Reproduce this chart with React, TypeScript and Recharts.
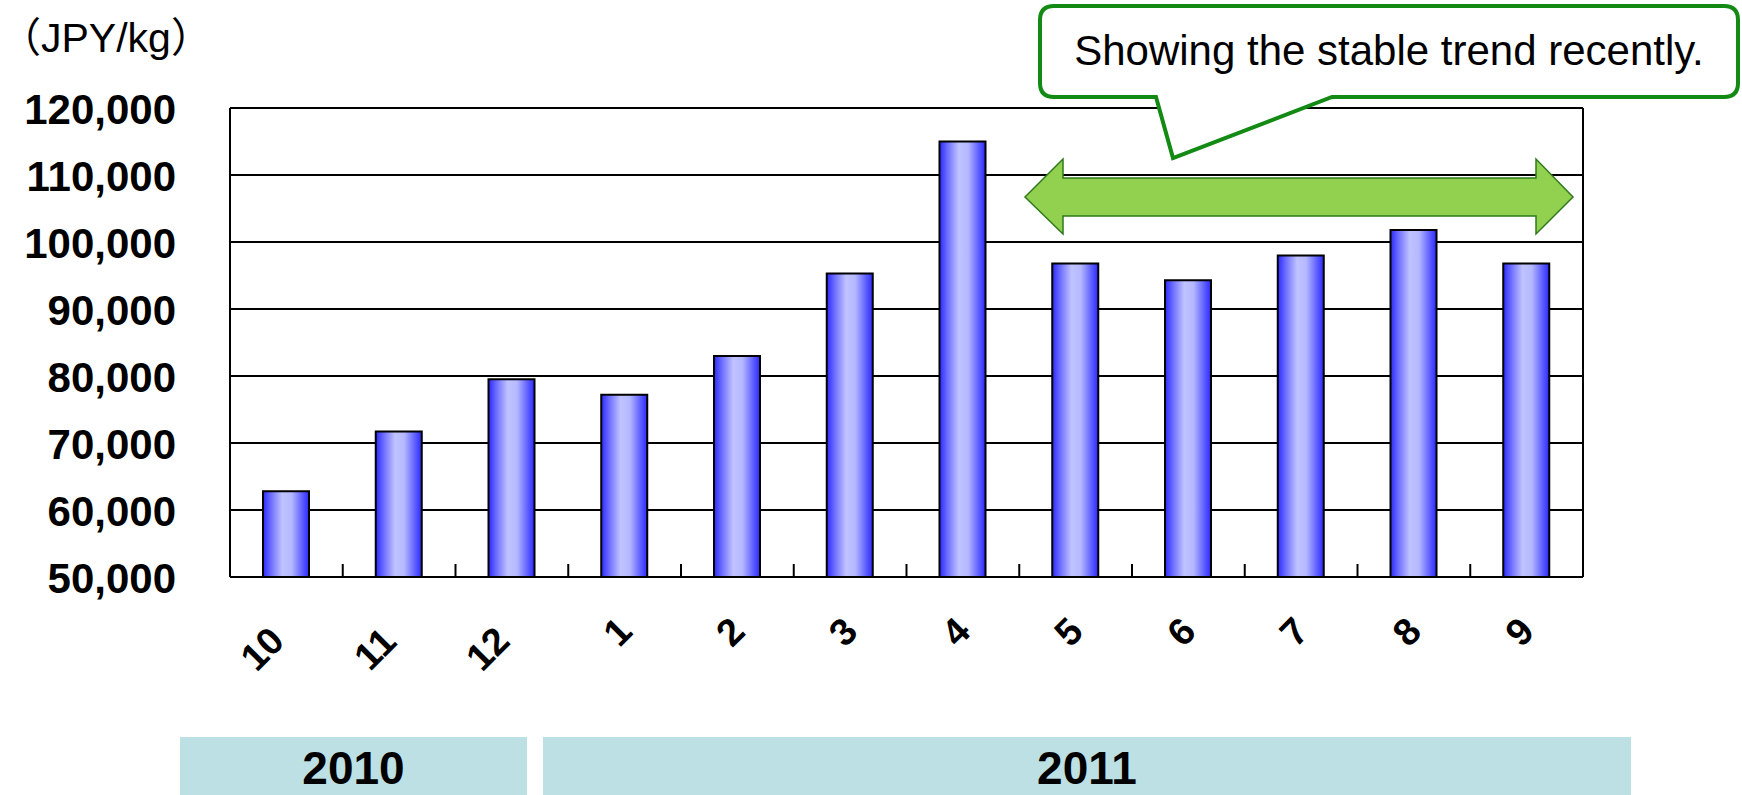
import React from 'react';
import { BarChart, Bar, XAxis, YAxis, CartesianGrid } from 'recharts';

// monthly price, Oct 2010 - Sep 2011
const months = ['10', '11', '12', '1', '2', '3', '4', '5', '6', '7', '8', '9'];
const prices = [62800, 71700, 79500, 77200, 83000, 95300, 115000, 96800, 94300, 98000, 101800, 96800];
const yTicks = [50000, 60000, 70000, 80000, 90000, 100000, 110000, 120000];
const years = ['2010', '2011'];
const unitLabel = '（JPY/kg）';
const calloutText = 'Showing the stable trend recently.';

const data = months.map((m, i) => ({ month: m, price: prices[i] }));

const FONT = '"Liberation Sans", Arial, "Noto Sans CJK JP", sans-serif';

const YTick = (props: any) => {
  const { x, y, payload } = props;
  return (
    <g>
      <line x1={x} y1={y} x2={x + 13} y2={y} stroke="#000" strokeWidth={2} />
      <text x={x - 54} y={y} dy="0.38em" textAnchor="end" fontFamily={FONT} fontWeight="bold" fontSize={42} fill="#000">
        {Number(payload.value).toLocaleString('en-US')}
      </text>
    </g>
  );
};

const XTick = (props: any) => {
  const { x, y, payload, index } = props;
  const half = payload.offset || 56;
  const last = index === months.length - 1;
  // longer labels slide down-left along the 45° line
  const extra = String(payload.value).length - 1;
  const tx = x + 2 - 17 * extra;
  const ty = y + 64 + 17 * extra;
  return (
    <g>
      {!last && <line x1={x + half} y1={y} x2={x + half} y2={y - 13} stroke="#000" strokeWidth={2} />}
      <text
        x={tx}
        y={ty}
        textAnchor="middle"
        transform={`rotate(-45, ${tx}, ${ty})`}
        fontFamily={FONT}
        fontWeight="bold"
        fontSize={38}
        fill="#000"
      >
        {payload.value}
      </text>
    </g>
  );
};

const yearBox = (left: number, width: number, label: string) => (
  <div
    key={label}
    style={{
      position: 'absolute',
      left,
      top: 737,
      width,
      height: 58,
      background: '#BCE0E4',
      fontFamily: FONT,
      fontWeight: 'bold',
      fontSize: 46,
      lineHeight: '62px',
      textAlign: 'center',
      color: '#000',
    }}
  >
    {label}
  </div>
);

export default function App() {
  return (
    <div style={{ position: 'absolute', left: 0, top: 0, width: 1742, height: 795, background: '#fff', overflow: 'hidden' }}>
      <BarChart width={1742} height={795} data={data} margin={{ top: 108, right: 159, bottom: 158, left: 0 }} barSize={46}>
        <defs>
          <linearGradient id="barGrad" x1="0" y1="0" x2="1" y2="0">
            <stop offset="0%" stopColor="#2a2aff" />
            <stop offset="18%" stopColor="#7070ff" />
            <stop offset="42%" stopColor="#c0c3ff" />
            <stop offset="62%" stopColor="#b5b8ff" />
            <stop offset="86%" stopColor="#5c5cff" />
            <stop offset="100%" stopColor="#2a2aff" />
          </linearGradient>
        </defs>
        {/* horizontal gridlines plus the right-hand border of the plot */}
        <CartesianGrid
          horizontal
          vertical
          verticalCoordinatesGenerator={({ offset }: any) => [offset.left + offset.width]}
          stroke="#000"
          strokeWidth={2}
        />
        <XAxis
          dataKey="month"
          height={60}
          interval={0}
          tickSize={0}
          tickMargin={0}
          tickLine={false}
          axisLine={{ stroke: '#000', strokeWidth: 2 }}
          tick={<XTick />}
        />
        <YAxis
          width={230}
          domain={[50000, 120000]}
          ticks={yTicks}
          interval={0}
          tickSize={0}
          tickMargin={0}
          tickLine={false}
          axisLine={{ stroke: '#000', strokeWidth: 2 }}
          tick={<YTick />}
        />
        <Bar dataKey="price" fill="url(#barGrad)" stroke="#000" strokeWidth={2} isAnimationActive={false} />
      </BarChart>

      <svg width={1742} height={795} style={{ position: 'absolute', left: 0, top: 0, pointerEvents: 'none' }}>
        <text x={0} y={52} fontFamily={FONT} fontSize={41} fill="#000">
          {unitLabel}
        </text>
        {/* double-headed arrow over the recent months */}
        <path
          d="M1025 197 L1063 159 L1063 178 L1536 178 L1536 159 L1573 197 L1536 234 L1536 216 L1063 216 L1063 234 Z"
          fill="#92D050"
          stroke="#2F7A1A"
          strokeWidth={1.5}
        />
        {/* speech bubble */}
        <path
          d="M1054 6 H1724 Q1738 6 1738 20 V83 Q1738 97 1724 97 H1332 L1173 158 L1156 97 H1054 Q1040 97 1040 83 V20 Q1040 6 1054 6 Z"
          fill="#fff"
          stroke="#138A13"
          strokeWidth={4}
          strokeLinejoin="miter"
        />
        <text x={1389} y={65} textAnchor="middle" fontFamily={FONT} fontSize={42} fill="#000">
          {calloutText}
        </text>
      </svg>

      {yearBox(180, 347, years[0])}
      {yearBox(543, 1088, years[1])}
    </div>
  );
}
